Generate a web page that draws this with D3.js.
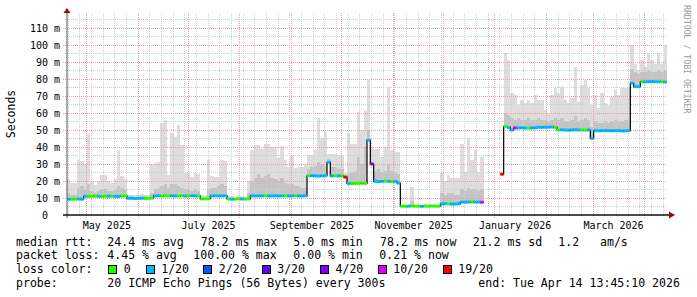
<!DOCTYPE html>
<html>
<head>
<meta charset="utf-8">
<script src="https://cdn.jsdelivr.net/npm/d3@7"></script>
<style>
html, body { margin: 0; padding: 0; background: #fff; }
text { font-family: "DejaVu Sans Mono", monospace; }
</style>
</head>
<body>
<svg id="chart" width="697" height="297"></svg>
<script>
// time frame of the graph: 360 days up to the end stamp, 2 day steps
var endTime = new Date(2026, 3, 14, 13, 45, 10);
var spanDays = 360;
var stepDays = 2;

// median rtt per step (ms), null = no data
var median = [
    9.3, 9.2, 9.3, 9.4, 9.3,
    11, 10.9, 11, 11.1, 11, 10.9, 11, 11.1, 11, 11, 10.9, 11.2, 11.3,
    9.8, 9.8, 9.7, 9.8, 9.8, 9.7, 9.8, 9.9,
    11.2, 11.3, 11.2, 11.3, 11.2, 11.3, 11.2, 11.2, 11.3, 11.2, 11.2, 11.3, 11.2, 11.1,
    9.5, 9.5, 9.6,
    11.2, 11.3, 11.2, 11.2, 11.3,
    9.4, 9.3, 9.4, 9.5, 9.4, 9.4, 9.5,
    11.2, 11.3, 11.2, 11.2, 11.3, 11.2, 11.2, 11.3, 11.2, 11.2, 11.3, 11.2, 11.2, 11.3, 11.2, 11.2, 11.3,
    23, 23.1, 23, 22.9, 23, 23.1,
    31,
    23, 23.1, 23, 23,
    22.3,
    18.6, 18.5, 18.6, 18.6, 18.7, 18.6,
    44, 30,
    19.8, 19.7, 19.8, 19.9, 19.8, 19.7, 19.8, 18.8,
    5.2, 5.1, 5.2, 5.3, 5.2, 5.2, 5.1, 5.2, 5.2, 5.3, 5.2, 5.2,
    6.5, 6.6, 6.5, 6.4, 6.5, 6.6,
    7.6, 7.5, 7.6, 7.7, 7.6, 7.6, 7.5,
    null, null, null, null, null,
    24,
    52, 51.5, 50, 51.2, 51.2, 51.3, 51.2, 51.1, 51.2, 51.3,
    51.6, 51.5, 51.6, 51.6, 51.7, 51.5,
    50, 50.1, 50, 49.9, 50, 50.1, 50, 50, 49.9, 50,
    45,
    49.6, 49.5, 49.6, 49.7, 49.6, 49.5, 49.6, 49.6, 49.4, 49.5, 49.6,
    77.5, 75.5, 75.5,
    78.4, 78.3, 78.4, 78.5, 78.4, 78.3, 78.4, 78.2
];

// highest ping of the step (top of the light smoke)
var smokeHi = [
    21, 18.6, 18.6, 32.4, 31.5, 30, 47.5, 20, 17.6, 20, 23.5, 23.5, 20, 18.8, 21, 38, 23, 21,
    12, 12, 11.5, 11.5, 12.5, 12, 12, 30,
    30.4, 31.4, 54, 56, 23.5, 48, 46, 53, 41, 24.5, 24.5, 22.5, 24.5, 24,
    11.5, 11.5, 32.4, 23, 22.5, 22.5, 32.4, 32,
    11, 11, 10.8, 11, 11, 10.8, 20,
    38.2, 41, 41, 39, 41.6, 41.6, 40, 40, 33.3, 40.6, 32.4, 28.4, 35, 27.5, 28.4, 28.4, 30,
    35, 35, 38, 57, 45, 49, 36, 36, 36, 35, 35,
    24.5,
    48, 42, 42, 60.8, 50, 61,
    79.4, 40, 39, 39, 34, 40, 75.5, 38, 37, 37,
    6, 5.8, 6, 16.7, 6, 5.9, 6, 6.2, 5.8, 6, 6, 6.1,
    24.5, 20, 23.5, 21.6, 21.6, 21.6, 42, 25, 45, 32.4, 38, 25, 34,
    null, null, null, null, null,
    25,
    95, 91, 71.6, 70.6, 64.7, 67.6, 65.7, 67.6, 65.7, 70.6,
    67.6, 67.6, 61.8, 60, 70.6, 74.5, 71.6, 75, 67.6, 65.7,
    68.6, 87.3, 66.7, 76.5, 79.4, 74.5, 64.7, 70.6, 62.7, 71.6,
    65.7, 64.7, 69.6, 73.5, 70.6, 74.5, 74.5, 75.5,
    100, 89, 85.3, 91, 87.3, 95, 91, 89, 95, 89, 100
];

// top of the denser (darker) smoke band
var smokeMid = [
    13, 12, 12, 16, 17, 15, 18, 14, 13, 14, 15, 15, 14, 14, 15, 17, 16, 15,
    11, 11, 10.5, 10.5, 11, 11, 10.5, 13,
    15, 16, 17, 18, 16, 18, 18, 17, 16, 15, 15, 14, 15, 14,
    10.2, 10.2,
    15, 16, 16, 17, 18, 17,
    9.8, 9.8, 9.8, 9.8, 9.8, 9.8, 13,
    20, 22, 24, 22, 23, 24, 22, 21, 20, 22, 19, 18, 18, 17, 17, 16, 16,
    27, 28, 29, 31, 30, 29, 33, 28, 28, 27, 27,
    23,
    24, 25, 26, 34, 30, 40,
    50, 28,
    26, 27, 25, 26, 30, 26, 25, 24,
    5.6, 5.6, 5.6, 8, 5.6, 5.6, 5.6, 5.6, 5.6, 5.6, 5.6, 5.6,
    13, 12, 13, 13, 12, 12, 15, 14, 16, 15, 15, 14, 15,
    null, null, null, null, null,
    24.5,
    60, 59, 57, 56, 57, 56, 56, 57, 56, 56,
    57, 56, 56, 55, 56, 57, 56, 57, 55, 55,
    56, 58, 55, 56, 57, 56, 52, 55, 54, 54,
    55, 54, 55, 56, 55, 55, 56, 56,
    86, 84, 83, 84, 84, 85, 84, 84, 85, 84, 85
];

// lost pings (of 20) per step
var loss = [
    1, 0, 0, 1, 1, 1, 0, 0, 0, 1, 0, 0, 1, 0, 1, 1, 0, 0,
    1, 1, 1, 1, 1, 0, 0, 0,
    1, 1, 0, 0, 0, 1, 1, 0, 0, 1, 0, 1, 1, 0,
    0, 0, 0,
    1, 1, 1, 1, 1,
    0, 1, 0, 0, 1, 0, 0,
    1, 1, 1, 1, 0, 1, 1, 1, 1, 1, 0, 1, 1, 0, 1, 1, 1,
    0, 1, 1, 1, 1, 1,
    1,
    1, 0, 1, 0,
    19,
    1, 0, 0, 0, 0, 0,
    1, 4,
    1, 1, 1, 0, 1, 0, 1, 1,
    0, 0, 1, 0, 0, 0, 1, 0, 0, 0, 0, 0,
    1, 1, 0, 1, 1, 1,
    1, 1, 1, 0, 1, 1, 10,
    0, 0, 0, 0, 0,
    19,
    0, 1, 1, 10, 1, 1, 1, 0, 1, 1,
    1, 1, 1, 1, 1, 0,
    0, 1, 1, 1, 1, 1, 1, 0, 0, 1,
    1,
    1, 1, 1, 1, 1, 1, 1, 1, 1, 1, 1,
    1, 1, 1,
    0, 1, 1, 1, 1, 1, 0, 1
];

var lossLevels = [0, 1, 2, 3, 4, 10, 19];
var lossLabels = ["0", "1/20", "2/20", "3/20", "4/20", "10/20", "19/20"];
var lossColors = ["#26ff00", "#00b8ff", "#0059ff", "#5e00ff", "#7e00ff", "#dd00ff", "#ff0000"];

var yTicks = [0, 10, 20, 30, 40, 50, 60, 70, 80, 90, 100, 110];
var yTickLabels = ["0  ", "10 m", "20 m", "30 m", "40 m", "50 m", "60 m", "70 m", "80 m", "90 m", "100 m", "110 m"];

var rttLabels = ["median rtt:", "24.4 ms avg", "78.2 ms max", "5.0 ms min", "78.2 ms now", "21.2 ms sd", "1.2", "am/s"];
var lossStatLabels = ["packet loss:", "4.45 % avg", "100.00 % max", "0.00 % min", "0.21 % now"];
var probeLabels = ["probe:", "20 ICMP Echo Pings (56 Bytes) every 300s", "end: Tue Apr 14 13:45:10 2026"];

var svg = d3.select("#chart");
var startTime = d3.timeHour.offset(endTime, -spanDays * 24);

var x = d3.scaleTime().domain([startTime, endTime]).range([67, 667]);
var y = d3.scaleLinear().domain([0, 118.8]).range([215, 13]);

function stepStart(i) { return x(d3.timeHour.offset(startTime, i * stepDays * 24)); }
function stepEnd(i) { return x(d3.timeHour.offset(startTime, (i + 1) * stepDays * 24)); }
function lossColor(v) { return lossColors[lossLevels.indexOf(v)]; }

var idx = d3.range(median.length).filter(function(i) { return median[i] != null; });

// smoke
var smoke = svg.append("g").attr("shape-rendering", "crispEdges");
smoke.selectAll("rect.hi")
    .data(idx)
    .enter()
    .append("rect")
    .attr("x", function(i) { return stepStart(i); })
    .attr("width", function(i) { return stepEnd(i) - stepStart(i); })
    .attr("y", function(i) { return y(smokeHi[i]); })
    .attr("height", function(i) { return y(median[i]) - y(smokeHi[i]) + 1; })
    .attr("fill", "#dddddd");

smoke.selectAll("rect.mid")
    .data(idx)
    .enter()
    .append("rect")
    .attr("x", function(i) { return stepStart(i); })
    .attr("width", function(i) { return stepEnd(i) - stepStart(i); })
    .attr("y", function(i) { return y(smokeMid[i]); })
    .attr("height", function(i) { return y(median[i]) - y(smokeMid[i]) + 1; })
    .attr("fill", "#c4c4c4");

// grid
var grid = svg.append("g").attr("fill", "none").attr("stroke-dasharray", "1,1");
var minorY = d3.range(5, 119, 5);
grid.selectAll("line.hmin")
    .data(minorY)
    .enter()
    .append("line")
    .attr("x1", 65).attr("x2", 667)
    .attr("y1", function(d) { return Math.round(y(d)) + 0.5; })
    .attr("y2", function(d) { return Math.round(y(d)) + 0.5; })
    .attr("stroke", "#cfcfcf");

var weeks = d3.timeSunday.range(startTime, endTime);
grid.selectAll("line.vmin")
    .data(weeks)
    .enter()
    .append("line")
    .attr("x1", function(d) { return Math.round(x(d)) + 0.5; })
    .attr("x2", function(d) { return Math.round(x(d)) + 0.5; })
    .attr("y1", 13).attr("y2", 217)
    .attr("stroke", "#cfcfcf");

grid.selectAll("line.hmaj")
    .data(yTicks.slice(1))
    .enter()
    .append("line")
    .attr("x1", 63).attr("x2", 667)
    .attr("y1", function(d) { return Math.round(y(d)) + 0.5; })
    .attr("y2", function(d) { return Math.round(y(d)) + 0.5; })
    .attr("stroke", "#eca2a2");

var months = d3.timeMonth.range(startTime, endTime);
grid.selectAll("line.vmaj")
    .data(months)
    .enter()
    .append("line")
    .attr("x1", function(d) { return Math.round(x(d)) + 0.5; })
    .attr("x2", function(d) { return Math.round(x(d)) + 0.5; })
    .attr("y1", 13).attr("y2", 218)
    .attr("stroke", "#eca2a2");

// median line: black step line, then loss coloured segments
var pts = [];
median.forEach(function(v, i) {
    if (v == null) { pts.push(null); return; }
    pts.push([stepStart(i), y(v)]);
    pts.push([stepEnd(i), y(v)]);
});
var line = d3.line().defined(function(d) { return d != null; });
svg.append("path")
    .attr("d", line(pts))
    .attr("fill", "none")
    .attr("stroke", "#000")
    .attr("stroke-width", 1.2);

svg.append("g").selectAll("line")
    .data(idx)
    .enter()
    .append("line")
    .attr("x1", function(i) { return stepStart(i); })
    .attr("x2", function(i) { return stepEnd(i); })
    .attr("y1", function(i) { return y(median[i]); })
    .attr("y2", function(i) { return y(median[i]); })
    .attr("stroke", function(i) { return lossColor(loss[i]); })
    .attr("stroke-width", 3);

// axes
svg.append("line")
    .attr("x1", 67).attr("x2", 67).attr("y1", 218).attr("y2", 11)
    .attr("stroke", "#555").attr("stroke-width", 1);
svg.append("line")
    .attr("x1", 63).attr("x2", 670).attr("y1", 215).attr("y2", 215)
    .attr("stroke", "#111").attr("stroke-width", 1.6);
svg.append("path")
    .attr("d", "M63.5,13L67,8L70.5,13Z")
    .attr("fill", "#8b1010");
svg.append("path")
    .attr("d", "M669,211.5L675,215L669,218.5Z")
    .attr("fill", "#8b1010");

// y labels
svg.append("g").selectAll("text")
    .data(yTicks)
    .enter()
    .append("text")
    .attr("x", 60)
    .attr("y", function(d) { return y(d) + 3.6; })
    .attr("text-anchor", "end")
    .style("white-space", "pre")
    .style("font-size", "10px")
    .attr("fill", "#000")
    .text(function(d, i) { return yTickLabels[i]; });

// x labels, every second month
var fmt = d3.timeFormat("%B %Y");
var labelMonths = d3.timeMonth.range(d3.timeMonth.ceil(startTime), endTime, 2);
svg.append("g").selectAll("text")
    .data(labelMonths)
    .enter()
    .append("text")
    .attr("x", function(d) { return x(d3.timeHour.offset(d, 300)); })
    .attr("y", 228.5)
    .attr("text-anchor", "middle")
    .style("font-size", "10px")
    .text(function(d) { return fmt(d); });

// titles
svg.append("text")
    .attr("transform", "translate(15,114) rotate(-90)")
    .attr("text-anchor", "middle")
    .style("font-size", "11.5px")
    .text("Seconds");

svg.append("text")
    .attr("transform", "translate(684,5) rotate(90)")
    .style("font-size", "8.2px")
    .attr("fill", "#9a9a9a")
    .text("RRDTOOL / TOBI OETIKER");

// legend
var fs = "11.55px";
var rowY = [245.6, 259.3, 273.2, 287];
var rttX = [16, 107.3, 200.7, 293.3, 380, 472.7, 558.3, 600];
var lossX = [16, 107.3, 193.3, 293.3, 379.3];
var probeX = [16, 107.3, 478.3];

var legend = svg.append("g").style("font-size", fs).style("white-space", "pre");
legend.selectAll("text.r1").data(rttLabels).enter().append("text")
    .attr("x", function(d, i) { return rttX[i]; }).attr("y", rowY[0]).text(function(d) { return d; });
legend.selectAll("text.r2").data(lossStatLabels).enter().append("text")
    .attr("x", function(d, i) { return lossX[i]; }).attr("y", rowY[1]).text(function(d) { return d; });
legend.selectAll("text.r4").data(probeLabels).enter().append("text")
    .attr("x", function(d, i) { return probeX[i]; }).attr("y", rowY[3]).text(function(d) { return d; });

legend.append("text").attr("x", 16).attr("y", rowY[2]).text("loss color:");
var boxX = [108.3, 145.7, 203.3, 261.7, 320, 377.7, 442.7];
var keys = legend.selectAll("g.key").data(lossLabels).enter().append("g");
keys.append("rect")
    .attr("x", function(d, i) { return Math.round(boxX[i]) + 0.5; })
    .attr("y", 265.5)
    .attr("width", 8).attr("height", 8)
    .attr("fill", function(d, i) { return lossColors[i]; })
    .attr("stroke", "#000").attr("stroke-width", 1);
keys.append("text")
    .attr("x", function(d, i) { return boxX[i] + 15.5; })
    .attr("y", rowY[2])
    .text(function(d) { return d; });
</script>
</body>
</html>
